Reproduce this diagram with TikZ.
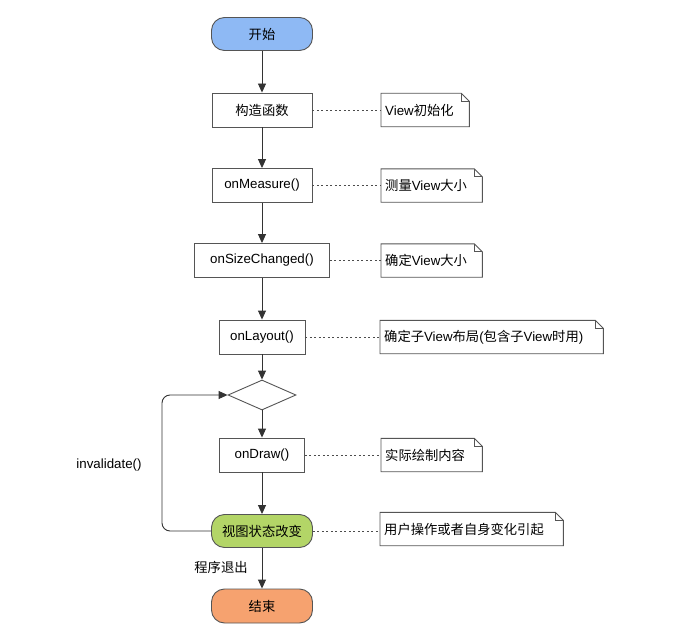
\documentclass[tikz,border=0pt]{standalone}
\usepackage{fontspec}
\setmainfont{Liberation Sans}
\newfontfamily\cjk{Noto Sans CJK SC}
\usetikzlibrary{shapes.geometric,arrows.meta}
\definecolor{startc}{HTML}{8EB9F4}
\definecolor{statec}{HTML}{B3D567}
\definecolor{endc}{HTML}{F6A26F}
\definecolor{linec}{HTML}{555555}
\newcommand{\fs}{\fontsize{13.3}{16}\selectfont}
\newcommand{\nt}[2]{\makebox[#1pt][l]{#2}}
\tikzset{
  proc/.style={draw=linec, line width=0.9, fill=white, minimum height=34, inner sep=0, font=\fs},
  term/.style={draw=linec, line width=0.9, rounded corners=13, minimum width=101, minimum height=33, inner sep=0, font=\fs},
  notebox/.style={inner xsep=4, inner ysep=0, minimum height=33, anchor=west, font=\fs},
  conn/.style={draw=black!80, line width=0.9, -{Triangle[length=9,width=8]}},
  link/.style={draw=black!70, line width=0.9, dash pattern=on 2pt off 2.5pt},
  lbl/.style={font=\fs, inner sep=0}
}
\newcommand{\notedraw}[1]{%
  \draw[draw=linec, line width=0.9] (#1.south west) -- (#1.north west) -- ([xshift=-8pt]#1.north east) -- ([yshift=-8pt]#1.north east) -- (#1.south east) -- cycle;
  \draw[draw=linec, line width=0.9] ([xshift=-8pt]#1.north east) -- ([xshift=-8pt,yshift=-8pt]#1.north east) -- ([yshift=-8pt]#1.north east);}
\begin{document}
\begin{tikzpicture}[x=1pt,y=-1pt]
\useasboundingbox (0,0) rectangle (678,642);
% main column
\node[term, fill=startc] (start) at (262,34) {\cjk 开始};
\node[proc, minimum width=100] (ctor) at (262,110) {\cjk 构造函数};
\node[proc, minimum width=100] (meas) at (262,185.5) {onMeasure()};
\node[proc, minimum width=135] (size) at (262,260.5) {onSizeChanged()};
\node[proc, minimum width=86] (lay) at (262,337) {onLayout()};
\node[diamond, draw=linec, line width=0.9, fill=white, minimum width=68, minimum height=30, inner sep=0] (dia) at (262,395) {};
\node[proc, minimum width=85] (draw) at (262,455) {onDraw()};
\node[term, fill=statec] (state) at (262,531) {\cjk 视图状态改变};
\node[term, fill=endc, minimum height=34] (end) at (262,606) {\cjk 结束};
% notes
\node[notebox] (n1) at (381,110) {\nt{80}{View{\cjk 初始化}}};
\node[notebox] (n2) at (381,185.5) {\nt{93}{{\cjk 测量}View{\cjk 大小}}};
\node[notebox] (n3) at (381,260.5) {\nt{93}{{\cjk 确定}View{\cjk 大小}}};
\node[notebox] (n4) at (380,337) {\nt{215}{{\cjk 确定子}View{\cjk 布局}({\cjk 包含子}View{\cjk 时用})}};
\node[notebox] (n5) at (381,455) {\nt{93}{\cjk 实际绘制内容}};
\node[notebox] (n6) at (380,529) {\nt{175}{\cjk 用户操作或者自身变化引起}};
\foreach \n in {n1,n2,n3,n4,n5,n6} {\notedraw{\n}}
% labels
\node[lbl] (inv) at (109,465) {invalidate()};
\node[lbl] (quit) at (221,567) {\cjk 程序退出};
% connectors
\draw[conn] (start) -- (ctor);
\draw[conn] (ctor) -- (meas);
\draw[conn] (meas) -- (size);
\draw[conn] (size) -- (lay);
\draw[conn] (lay) -- (dia);
\draw[conn] (dia) -- (draw);
\draw[conn] (draw) -- (state);
\draw[conn] (state) -- (end);
\coordinate (lb) at (162,531);
\coordinate (lt) at (162,395);
\draw[conn, rounded corners=8] (state.west) -- (lb) -- (lt) -- (dia.west);
% dotted links
\draw[link] (ctor.east) -- (n1.west);
\draw[link] (meas.east) -- (n2.west);
\draw[link] (size.east) -- (n3.west);
\draw[link] (lay.east) -- (n4.west);
\draw[link] (draw.east) -- (n5.west);
\draw[link] (state.east) -- (state.east -| n6.west);
\end{tikzpicture}
\end{document}
